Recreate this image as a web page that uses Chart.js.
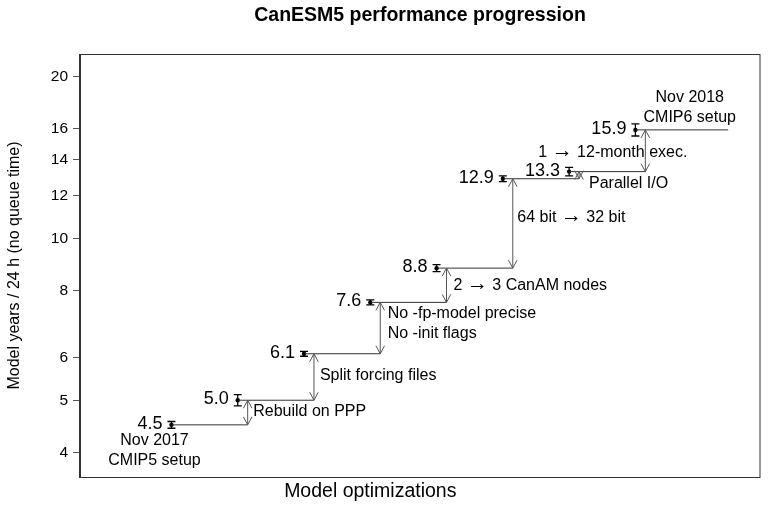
<!DOCTYPE html>
<html>
<head>
<meta charset="utf-8">
<script src="https://cdn.jsdelivr.net/npm/chart.js@4.4.1/dist/chart.umd.min.js"></script>
<style>
  html, body { margin: 0; padding: 0; background: #ffffff; }
  #wrap { width: 769px; height: 509px; }
</style>
</head>
<body>
<div id="wrap"><canvas id="c" width="769" height="509"></canvas></div>
<script>
// ---- data ----
const categories = ['Nov 2017 CMIP5 setup', 'Rebuild on PPP', 'Split forcing files',
  'No -fp-model precise / No -init flags', '2 \u2192 3 CanAM nodes', '64 bit \u2192 32 bit',
  'Parallel I/O', '1 \u2192 12-month exec.'];
const values = [4.5, 5.0, 6.1, 7.6, 8.8, 12.9, 13.3, 15.9];
const errors = [0.065, 0.12, 0.065, 0.08, 0.13, 0.16, 0.24, 0.41];
const valueLabels = ['4.5', '5.0', '6.1', '7.6', '8.8', '12.9', '13.3', '15.9'];
const yTicks = [4, 5, 6, 8, 10, 12, 14, 16, 20];

// annotation texts with anchor in data coords: [lines, x, y, align]
const notes = [
  [['Nov 2017', 'CMIP5 setup'], 0.744, 4.21, 'center'],
  [['Rebuild on PPP'], 2.233, 4.77, 'left'],
  [['Split forcing files'], 3.24, 5.56, 'left'],
  [['No -fp-model precise', 'No -init flags'], 4.263, 7.25, 'left'],
  [['2 \u2192 3 CanAM nodes'], 5.256, 8.18, 'left'],
  [['64 bit \u2192 32 bit'], 6.218, 10.94, 'left'],
  [['1 \u2192 12-month exec.'], 7.66, 14.45, 'center'],
  [['Parallel I/O'], 7.30, 12.65, 'left'],
  [['Nov 2018', 'CMIP6 setup'], 8.82, 18.28, 'center']
];

const ARROW_OFF = 0.15;   // arrow x offset past next step
const LAST_END = 9.4;     // end of final step line
const FONT = "'Liberation Sans', Arial, Helvetica, sans-serif";

const xs = values.map((v, i) => i + 1);

const datasets = [];
values.forEach((v, i) => {
  const xEnd = i < values.length - 1 ? xs[i + 1] + ARROW_OFF : LAST_END;
  datasets.push({
    type: 'line',
    data: [{x: xs[i], y: v}, {x: xEnd, y: v}],
    borderColor: '#333333',
    borderWidth: 1,
    pointRadius: 0,
    fill: false
  });
});
datasets.push({
  type: 'scatter',
  data: values.map((v, i) => ({x: xs[i], y: v})),
  pointRadius: 2.2,
  backgroundColor: '#000000',
  borderColor: '#000000',
  borderWidth: 0
});

function drawMixed(ctx, text, x, y, align, size) {
  const parts = text.split('\u2192');
  const mainF = size + 'px ' + FONT;
  const arrF = Math.round(size * 1.3) + 'px ' + FONT;
  let total = 0;
  const pieces = [];
  parts.forEach((p, k) => {
    ctx.font = mainF;
    const w0 = ctx.measureText(p).width;
    pieces.push([p, mainF, w0, 0]);
    total += w0;
    if (k < parts.length - 1) {
      ctx.font = arrF;
      const w = ctx.measureText('\u2192').width;
      pieces.push(['\u2192', arrF, w, -1]);
      total += w;
    }
  });
  let cx = align === 'center' ? x - total / 2 : (align === 'right' ? x - total : x);
  ctx.textAlign = 'left';
  pieces.forEach(pc => {
    ctx.font = pc[1];
    ctx.fillText(pc[0], cx, y + pc[3]);
    cx += pc[2];
  });
}

const drawPlugin = {
  id: 'extras',
  afterDatasetsDraw(chart) {
    const ctx = chart.ctx;
    const xS = chart.scales.x, yS = chart.scales.y;
    ctx.save();
    // error bars
    ctx.strokeStyle = '#000';
    ctx.lineWidth = 1.3;
    values.forEach((v, i) => {
      const px = xS.getPixelForValue(xs[i]);
      const y1 = yS.getPixelForValue(v - errors[i]);
      const y2 = yS.getPixelForValue(v + errors[i]);
      ctx.beginPath();
      ctx.moveTo(px, y1); ctx.lineTo(px, y2);
      ctx.moveTo(px - 4, y1); ctx.lineTo(px + 4, y1);
      ctx.moveTo(px - 4, y2); ctx.lineTo(px + 4, y2);
      ctx.stroke();
    });
    // arrows
    ctx.strokeStyle = '#555555';
    ctx.lineWidth = 1;
    for (let i = 0; i < values.length - 1; i++) {
      const px = xS.getPixelForValue(xs[i + 1] + ARROW_OFF);
      const yLo = yS.getPixelForValue(values[i]);
      const yHi = yS.getPixelForValue(values[i + 1]);
      const L = 8, W = 4.3;
      ctx.beginPath();
      ctx.moveTo(px, yLo); ctx.lineTo(px, yHi);
      ctx.moveTo(px - W, yHi + L); ctx.lineTo(px, yHi); ctx.lineTo(px + W, yHi + L);
      ctx.moveTo(px - W, yLo - L); ctx.lineTo(px, yLo); ctx.lineTo(px + W, yLo - L);
      ctx.stroke();
    }
    // value labels
    ctx.fillStyle = '#000';
    ctx.font = '18px ' + FONT;
    ctx.textAlign = 'right';
    ctx.textBaseline = 'middle';
    values.forEach((v, i) => {
      const px = xS.getPixelForValue(xs[i]);
      const py = yS.getPixelForValue(v);
      ctx.fillText(valueLabels[i], px - 9, py - 1);
    });
    // notes
    notes.forEach(n => {
      const px = xS.getPixelForValue(n[1]);
      const py = yS.getPixelForValue(n[2]);
      n[0].forEach((t, k) => drawMixed(ctx, t, px, py + k * 20.5, n[3], 16));
    });
    ctx.restore();
  },
  afterDraw(chart) {
    const ctx = chart.ctx;
    const a = chart.chartArea;
    const xS = chart.scales.x;
    ctx.save();
    ctx.strokeStyle = '#333333';
    ctx.lineWidth = 1;
    ctx.strokeRect(Math.round(a.left) - 0.5, Math.round(a.top) + 0.5,
      Math.round(a.right - a.left) + 0.5, Math.round(a.bottom - a.top));
    ctx.fillStyle = '#000';
    ctx.textBaseline = 'middle';
    ctx.textAlign = 'center';
    ctx.font = 'bold 19.5px ' + FONT;
    ctx.fillText('CanESM5 performance progression', (a.left + a.right) / 2, 16);
    ctx.font = '19.5px ' + FONT;
    ctx.fillText('Model optimizations', xS.getPixelForValue(4), 492);
    ctx.translate(15, (a.top + a.bottom) / 2);
    ctx.rotate(-Math.PI / 2);
    ctx.font = '16px ' + FONT;
    ctx.fillText('Model years / 24 h (no queue time)', 0, 0);
    ctx.restore();
  }
};

new Chart(document.getElementById('c'), {
  data: { datasets },
  options: {
    responsive: false,
    animation: false,
    devicePixelRatio: 1,
    layout: { padding: { top: 54, right: 9, bottom: 32, left: 0 } },
    plugins: { legend: { display: false }, tooltip: { enabled: false }, title: { display: false } },
    scales: {
      x: { type: 'linear', min: -0.38, max: 9.88, display: false },
      y: {
        type: 'logarithmic', min: 3.6, max: 22,
        afterBuildTicks(s) { s.ticks = yTicks.map(v => ({ value: v })); },
        afterFit(s) { s.width = 80; },
        ticks: {
          autoSkip: false, padding: 5, color: '#000',
          font: { size: 15.5, family: FONT },
          callback: (v) => String(v)
        },
        grid: { display: true, drawOnChartArea: false, drawTicks: true, tickLength: 7, color: '#555555' },
        border: { display: true, color: '#333333' }
      }
    }
  },
  plugins: [drawPlugin]
});
</script>
</body>
</html>
